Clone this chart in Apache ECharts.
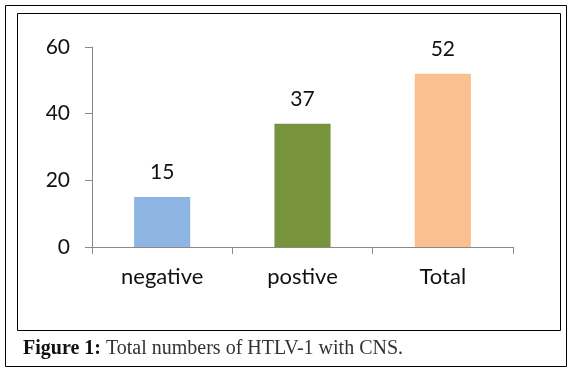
<!DOCTYPE html>
<html>
<head>
<meta charset="utf-8">
<script src="https://cdn.jsdelivr.net/npm/echarts@6/dist/echarts.min.js"></script>
<style>
  html, body { margin: 0; padding: 0; background: #fff; }
  #chart { width: 576px; height: 368px; }
</style>
</head>
<body>
<div id="chart"></div>
<script>
// data
const categories = ["negative", "postive", "Total"];
const counts = [15, 37, 52];
const barColors = ["#8EB4E3", "#77933C", "#FAC090"];
const yTicks = [0, 20, 40, 60];

const chart = echarts.init(document.getElementById("chart"));

const option = {
  animation: false,
  backgroundColor: "#fff",
  title: {
    left: 18,
    top: 334,
    text: "{b|Figure 1:} {n|Total numbers of HTLV-1 with CNS.}",
    textStyle: {
      fontWeight: "normal",
      rich: {
        b: { fontFamily: "Liberation Serif", fontSize: 20, fontWeight: "bold", color: "#111" },
        n: { fontFamily: "Liberation Serif", fontSize: 20, fontWeight: "normal", color: "#333" }
      }
    }
  },
  graphic: [
    {
      type: "rect",
      shape: { x: 5.5, y: 5.5, width: 561, height: 361 },
      style: { fill: null, stroke: "#000", lineWidth: 1 },
      silent: true
    },
    {
      type: "rect",
      shape: { x: 17.5, y: 13.5, width: 543, height: 317 },
      style: { fill: null, stroke: "#000", lineWidth: 1 },
      silent: true
    }
  ],
  grid: { left: 92, right: 63, top: 47, bottom: 121 },
  xAxis: {
    type: "category",
    data: categories,
    axisLine: { lineStyle: { color: "#898989", width: 1 } },
    axisTick: { show: true, length: 7, lineStyle: { color: "#898989" } },
    axisLabel: {
      margin: 19,
      fontFamily: "Lato",
      fontSize: 22,
      color: "#111"
    }
  },
  yAxis: {
    type: "value",
    min: yTicks[0],
    max: yTicks[yTicks.length - 1],
    interval: 20,
    axisLine: { show: true, lineStyle: { color: "#898989", width: 1 } },
    axisTick: { show: true, length: 7, lineStyle: { color: "#898989" } },
    splitLine: { show: false },
    axisLabel: {
      margin: 22,
      fontFamily: "Lato",
      fontSize: 21,
      color: "#111"
    }
  },
  series: [
    {
      type: "bar",
      barWidth: "40%",
      data: counts.map((v, i) => ({ value: v, itemStyle: { color: barColors[i] } })),
      label: {
        show: true,
        position: "top",
        distance: 14,
        fontFamily: "Lato",
        fontSize: 21,
        color: "#111"
      }
    }
  ]
};

chart.setOption(option);
</script>
</body>
</html>
